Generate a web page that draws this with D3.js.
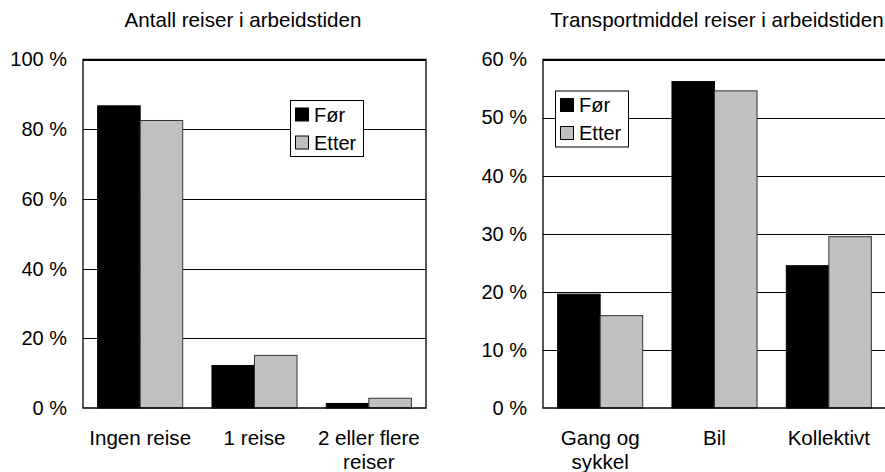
<!DOCTYPE html>
<html><head><meta charset="utf-8">
<script src="https://cdn.jsdelivr.net/npm/d3@7"></script>
<style>
body{margin:0;background:#fff;}
svg{display:block;font-family:"Liberation Sans",Arial,sans-serif;}
</style></head>
<body><svg id="c" width="885" height="472"></svg>
<script>
const seriesNames = ["Før", "Etter"];
const seriesColors = ["#000000", "#c0c0c0"];

const leftTitle = "Antall reiser i arbeidstiden";
const leftCategories = ["Ingen reise", "1 reise", "2 eller flere\nreiser"];
const leftFor = [86.7, 12.2, 1.3];
const leftEtter = [82.5, 15.1, 2.8];
const leftTicks = [0, 20, 40, 60, 80, 100];

const rightTitle = "Transportmiddel reiser i arbeidstiden";
const rightCategories = ["Gang og\nsykkel", "Bil", "Kollektivt"];
const rightFor = [19.6, 56.2, 24.5];
const rightEtter = [15.9, 54.6, 29.5];
const rightTicks = [0, 10, 20, 30, 40, 50, 60];

const svg = d3.select("#c");
const FS = 20;
const FSX = 20.6;

function chart(cfg) {
  const g = svg.append("g");
  const x = d3.scaleBand().domain(cfg.categories).range([cfg.x0, cfg.x1])
    .paddingInner(0.256).paddingOuter(0.128);
  const sub = d3.scaleBand().domain(seriesNames).range([0, x.bandwidth()]);
  const y = d3.scaleLinear().domain([0, d3.max(cfg.ticks)]).range([cfg.y1, cfg.y0]);

  // title
  g.append("text").attr("x", cfg.titleX).attr("y", 27).attr("text-anchor", "middle")
    .attr("font-size", FSX).text(cfg.title);

  // grid lines
  g.selectAll(".grid").data(cfg.ticks.slice(1)).join("line")
    .attr("x1", cfg.x0).attr("x2", cfg.x1)
    .attr("y1", d => Math.round(y(d)) + 0.5).attr("y2", d => Math.round(y(d)) + 0.5)
    .attr("stroke", "#000").attr("stroke-width", 1);

  // bars
  const data = [cfg.for, cfg.etter];
  data.forEach((vals, si) => {
    g.selectAll(".b" + si).data(cfg.categories).join("rect")
      .attr("x", c => x(c) + sub(seriesNames[si]))
      .attr("y", (c, i) => y(vals[i]))
      .attr("width", sub.bandwidth())
      .attr("height", (c, i) => cfg.y1 - y(vals[i]))
      .attr("fill", seriesColors[si])
      .attr("stroke", si === 0 ? "#000" : "#333")
      .attr("stroke-width", 1);
  });

  // frame
  g.append("path")
    .attr("d", cfg.frameRight
      ? `M${cfg.x0},${cfg.y1}V${cfg.y0}H${cfg.x1}V${cfg.y1}Z`
      : `M${cfg.x1},${cfg.y1}H${cfg.x0}V${cfg.y0}H${cfg.x1}`)
    .attr("fill", "none").attr("stroke", "#000").attr("stroke-width", 1.3);

  // y axis labels
  const ya = d3.axisLeft(y).tickValues(cfg.ticks).tickSize(0).tickPadding(16)
    .tickFormat(d => d + " %");
  const ag = g.append("g").attr("transform", `translate(${cfg.x0},0)`).call(ya);
  ag.select(".domain").remove();
  ag.selectAll("text").attr("font-size", FS).attr("font-family", "Liberation Sans, Arial, sans-serif")
    .attr("fill", "#000");

  // x axis labels
  const xa = d3.axisBottom(x).tickSize(0).tickFormat("");
  const xg = g.append("g").attr("transform", `translate(0,${cfg.y1})`).call(xa);
  xg.select(".domain").remove();
  xg.selectAll(".tick").each(function(c) {
    const t = d3.select(this).append("text").attr("fill", "#000")
      .attr("font-size", FSX).attr("text-anchor", "middle");
    c.split("\n").forEach((line, li) => {
      t.append("tspan").attr("x", 0).attr("y", 37 + li * 24).text(line);
    });
  });

  // legend
  const lg = g.append("g").attr("transform", `translate(${cfg.legX},${cfg.legY})`);
  lg.append("rect").attr("x", 0.5).attr("y", 0.5).attr("width", 73).attr("height", 56)
    .attr("fill", "#fff").attr("stroke", "#000").attr("stroke-width", 1);
  seriesNames.forEach((n, i) => {
    lg.append("rect").attr("x", 5.5).attr("y", 8 + i * 28).attr("width", 13).attr("height", 13)
      .attr("fill", seriesColors[i]).attr("stroke", "#000").attr("stroke-width", 1);
    lg.append("text").attr("x", 24).attr("y", 21.5 + i * 28).attr("font-size", FS).text(n);
  });
}

chart({title: leftTitle, titleX: 243, categories: leftCategories, for: leftFor, etter: leftEtter,
  ticks: leftTicks, x0: 83, x1: 426, y0: 59.5, y1: 408, frameRight: true, legX: 290, legY: 100});
chart({title: rightTitle, titleX: 717, categories: rightCategories, for: rightFor, etter: rightEtter,
  ticks: rightTicks, x0: 543, x1: 886, y0: 59.5, y1: 408, frameRight: false, legX: 555, legY: 90.5});
</script></body></html>
